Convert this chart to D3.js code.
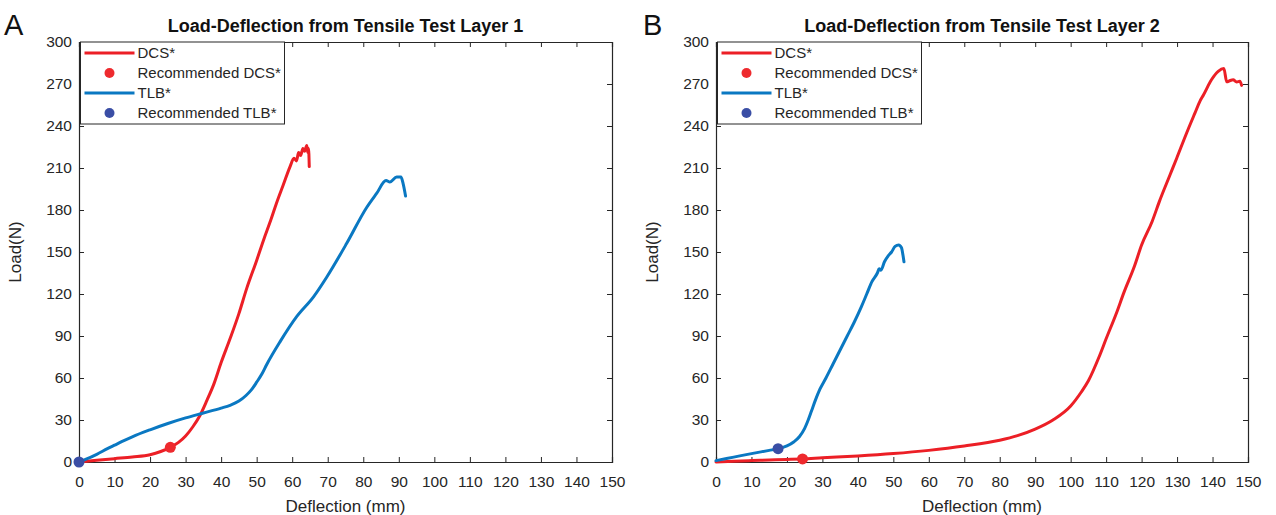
<!DOCTYPE html>
<html>
<head>
<meta charset="utf-8">
<script src="https://cdn.jsdelivr.net/npm/d3@7"></script>
<style>
  html, body { margin: 0; padding: 0; background: #fff; }
  svg { display: block; font-family: "Liberation Sans", Arial, sans-serif; }
</style>
</head>
<body>
<svg id="chart" width="1276" height="515"></svg>
<script>
// ---------- data ----------
const xTicks = [0,10,20,30,40,50,60,70,80,90,100,110,120,130,140,150];
const yTicks = [0,30,60,90,120,150,180,210,240,270,300];

// Layer 1
const dcs1X = [0,5,10,15,20,23,25.7,28,30,32,34,36,38,40,42.5,45,47.2,50,52,54,55.6,57.5,59.4,60.5,61.2,61.8,62.4,63,63.5,64.1,64.4,64.6,64.8];
const dcs1Y = [0,1.2,2.4,3.6,5.2,7.5,10.5,14,18.6,25,33,44,56,71,88,106,124,144,159,173,185,198,211,217,215,221,219,224,222,226,221,224,211];
const tlb1X = [0,2,5,8,10,12,15,20,25,30,35,40,42.5,45,47,48.5,50,51.5,52.8,56.6,61.3,66,69.7,75.3,81,83.8,86.4,87.5,89.4,90.6,91.2,91.9];
const tlb1Y = [0,2,5.5,9.5,12,14.5,18,23,27.5,31.5,35,38.5,40.5,43.5,47.5,51.5,57,63,69.5,86,104,118,132,156,182,192,201,200,203.5,203.5,199,190];
const recDcs1 = [25.7, 10.5];
const recTlb1 = [0, 0];

// Layer 2
const dcs2X = [0,5,10,15,20,24.4,30,40,50,60,70,80,85,90,95,100,103,105,108,110,113,115,118,120,123,125,128,129.9,132.7,135,136.5,137.4,139.7,141.6,143.2,144,145,145.8,146.8,147.7,148.2];
const dcs2Y = [0,0.6,1.0,1.4,1.8,2.2,3,4.3,6,8.3,11.4,15.5,18.8,23.5,30,40,50,58,75,88,107,121,140,155,172,186,205,217,235,249,258,262,273,279,281,271.6,272.5,273,271.5,272,269];
const tlb2X = [0,5,10,15,17.5,20,22,23.5,25,26,27,28,29.3,31,33,35,37,39,41,42.5,44,45.5,46,46.5,47.5,48.5,49.5,50.5,51.5,52.3,52.7,53];
const tlb2Y = [1,3.5,6,8.3,9.5,11.5,14.5,18,24,30,37,44,52,60,70,80,90,100,111,120,129,135,138,137,143,147,150,154,155,153,148,143];
const recDcs2 = [24.4, 2.2];
const recTlb2 = [17.5, 9.5];

const titles = ["Load-Deflection from Tensile Test Layer 1", "Load-Deflection from Tensile Test Layer 2"];
const letters = ["A", "B"];
const legendLabels = ["DCS*", "Recommended DCS*", "TLB*", "Recommended TLB*"];
const xLabel = "Deflection (mm)";
const yLabel = "Load(N)";

// ---------- styles ----------
const RED = "#ec1f26";
const BLUE = "#0a78c2";
const DOTRED = "#ee2a2e";
const DOTBLUE = "#3a4ea5";
const AXIS = "#262626";

const panels = [
  { left: 79,  right: 612, top: 42, bottom: 462, letterX: 4,
    dcsX: dcs1X, dcsY: dcs1Y, tlbX: tlb1X, tlbY: tlb1Y, recDcs: recDcs1, recTlb: recTlb1 },
  { left: 716, right: 1248, top: 42, bottom: 462, letterX: 643,
    dcsX: dcs2X, dcsY: dcs2Y, tlbX: tlb2X, tlbY: tlb2Y, recDcs: recDcs2, recTlb: recTlb2 }
];

const svg = d3.select("#chart");
svg.append("rect").attr("width", 1276).attr("height", 515).attr("fill", "#fff");

panels.forEach((p, i) => {
  const x = d3.scaleLinear().domain([0, 150]).range([p.left, p.right]);
  const y = d3.scaleLinear().domain([0, 300]).range([p.bottom, p.top]);
  const g = svg.append("g");

  // axes with inward ticks
  const tickLen = 5;
  const bx = g.append("g").attr("transform", `translate(0,${p.bottom})`)
    .call(d3.axisBottom(x).tickValues(xTicks).tickSize(-tickLen).tickPadding(14).tickFormat(d3.format("d")));
  const tx = g.append("g").attr("transform", `translate(0,${p.top})`)
    .call(d3.axisTop(x).tickValues(xTicks).tickSize(-tickLen).tickFormat(""));
  const ly = g.append("g").attr("transform", `translate(${p.left},0)`)
    .call(d3.axisLeft(y).tickValues(yTicks).tickSize(-tickLen).tickPadding(7).tickFormat(d3.format("d")));
  const ry = g.append("g").attr("transform", `translate(${p.right},0)`)
    .call(d3.axisRight(y).tickValues(yTicks).tickSize(-tickLen).tickFormat(""));
  [bx, tx, ly, ry].forEach(a => {
    a.select(".domain").attr("stroke", AXIS).attr("stroke-width", 1.2);
    a.selectAll(".tick line").attr("stroke", AXIS);
    a.selectAll(".tick text").attr("fill", AXIS).attr("font-size", 15.5)
      .attr("font-family", "'Liberation Sans', Arial, sans-serif");
  });

  // lines
  const line = d3.line().x(d => x(d[0])).y(d => y(d[1])).curve(d3.curveMonotoneX);
  const dcs = p.dcsX.map((v, k) => [v, p.dcsY[k]]);
  const tlb = p.tlbX.map((v, k) => [v, p.tlbY[k]]);
  g.append("path").datum(dcs).attr("d", line).attr("fill", "none")
    .attr("stroke", RED).attr("stroke-width", 3).attr("stroke-linejoin", "round").attr("stroke-linecap", "round");
  g.append("path").datum(tlb).attr("d", line).attr("fill", "none")
    .attr("stroke", BLUE).attr("stroke-width", 3).attr("stroke-linejoin", "round").attr("stroke-linecap", "round");
  g.append("circle").attr("cx", x(p.recDcs[0])).attr("cy", y(p.recDcs[1])).attr("r", 5.5).attr("fill", DOTRED);
  g.append("circle").attr("cx", x(p.recTlb[0])).attr("cy", y(p.recTlb[1])).attr("r", 5.5).attr("fill", DOTBLUE);

  // title
  svg.append("text").attr("x", (p.left + p.right) / 2).attr("y", 32)
    .attr("text-anchor", "middle").attr("font-weight", "bold").attr("font-size", 18)
    .attr("fill", "#111").text(titles[i]);
  // letter
  svg.append("text").attr("x", p.letterX).attr("y", 35).attr("font-size", 29)
    .attr("fill", "#111").text(letters[i]);
  // x label
  svg.append("text").attr("x", (p.left + p.right) / 2).attr("y", 512)
    .attr("text-anchor", "middle").attr("font-size", 17).attr("fill", AXIS).text(xLabel);
  // y label
  svg.append("text").attr("transform", `translate(${p.left - 58},${(p.top + p.bottom) / 2}) rotate(-90)`)
    .attr("text-anchor", "middle").attr("font-size", 17).attr("fill", AXIS).text(yLabel);

  // legend
  const lg = g.append("g").attr("transform", `translate(${p.left + 1.5},${p.top})`);
  lg.append("rect").attr("x", 0).attr("y", 0).attr("width", 204).attr("height", 82)
    .attr("fill", "#fff").attr("stroke", AXIS).attr("stroke-width", 1);
  const rowY = [11, 31, 51, 71];
  legendLabels.forEach((lab, k) => {
    if (k % 2 === 0) {
      lg.append("line").attr("x1", 4).attr("x2", 54).attr("y1", rowY[k]).attr("y2", rowY[k])
        .attr("stroke", k === 0 ? RED : BLUE).attr("stroke-width", 3);
    } else {
      lg.append("circle").attr("cx", 29).attr("cy", rowY[k]).attr("r", 5)
        .attr("fill", k === 1 ? DOTRED : DOTBLUE);
    }
    lg.append("text").attr("x", 57).attr("y", rowY[k] + 5).attr("font-size", 15)
      .attr("fill", AXIS).text(lab);
  });
});
</script>
</body>
</html>
